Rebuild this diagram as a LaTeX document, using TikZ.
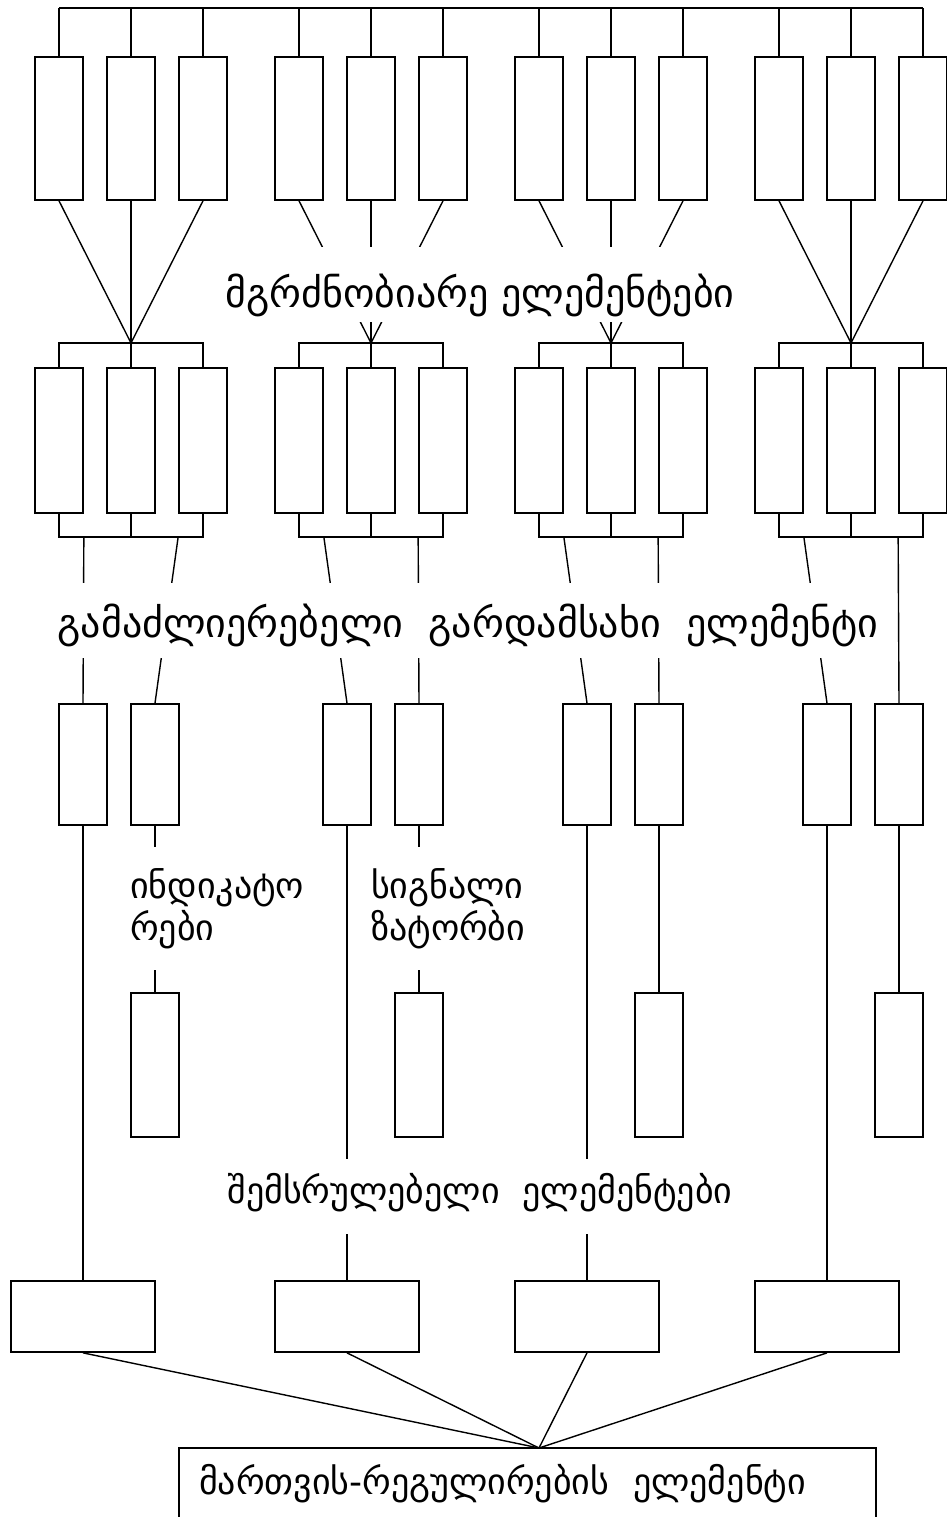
\documentclass[tikz,border=0pt]{standalone}
\usepackage{fontspec}
\setmainfont{DejaVu Sans}
\usepackage{tikz}
\tikzstyle{cell} = [rectangle, draw=black, line width=1.7pt, inner sep=0pt, minimum width=48pt]
\tikzstyle{sensor} = [cell, minimum height=143pt]
\tikzstyle{amp} = [cell, minimum height=145pt]
\tikzstyle{conv} = [cell, minimum height=121pt]
\tikzstyle{lamp} = [cell, minimum height=144pt]
\tikzstyle{drive} = [cell, minimum width=144pt, minimum height=71pt]
\tikzstyle{wire} = [line width=1.4pt]
\tikzstyle{caption} = [fill=white, inner ysep=0pt, inner xsep=8pt, font=\fontsize{36}{42}\selectfont]

\begin{document}
\begin{tikzpicture}[x=1pt, y=-1pt]
    \useasboundingbox (0,0) rectangle (946,1517);

    % Nodes
    \coordinate (top) at (0,8);
    \foreach \g/\cx in {1/131, 2/371, 3/611, 4/851} {
        \foreach \k/\dx in {1/-72, 2/0, 3/72} {
            \node (t\g\k) [sensor] at ({\cx+\dx}, 128.5) {};
            \node (a\g\k) [amp] at ({\cx+\dx}, 440.5) {};
        }
        \coordinate (m\g) at (\cx, 343);
        \coordinate (b\g) at (\cx, 537);
    }
    \foreach \g/\xl/\xr in {1/83/155, 2/347/419, 3/587/659, 4/827/899} {
        \node (r\g1) [conv] at (\xl, 764.5) {};
        \node (r\g2) [conv] at (\xr, 764.5) {};
        \node (q\g) [lamp] at (\xr, 1065) {};
        \node (e\g) [drive] at (\xl, 1316.5) {};
    }
    \coordinate (c) at (539, 1448);
    \node (ctrl) [draw, line width=1.7pt, minimum width=697pt, minimum height=72pt,
        text width=657pt, inner xsep=20pt, align=left, font=\fontsize{36}{42}\selectfont]
        at (527.5, 1484) {მართვის-რეგულირების~~ელემენტი};

    % Connections
    \draw [wire] (t11.north |- top) -- (t43.north |- top);
    \foreach \g in {1,2,3,4} {
        \foreach \k in {1,2,3} {
            \draw [wire] (t\g\k.north) -- (t\g\k.north |- top);
            \draw [wire] (t\g\k.south) -- (m\g);
        }
        \draw [wire] (a\g1.north) |- (m\g) -| (a\g3.north);
        \draw [wire] (m\g) -- (a\g2.north);
        \draw [wire] (a\g1.south) |- (b\g) -| (a\g3.south);
        \draw [wire] (b\g) -- (a\g2.south);
        \draw [wire] (a\g1.south east |- b\g) -- (r\g1.north);
        \draw [wire] (a\g3.south west |- b\g) -- (r\g2.north);
        \draw [wire] (r\g2.south) -- (q\g.north);
        \draw [wire] (r\g1.south) -- (e\g.north);
        \draw [wire] (e\g.south) -- (c);
    }

    % Labels
    \node (sense) [caption, anchor=base, text height=60pt, text depth=15pt, font=\fontsize{40}{46}\selectfont] at (480, 307) {მგრძნობიარე ელემენტები};
    \node (amplify) [caption, anchor=base, text height=54pt, text depth=21pt, font=\fontsize{40}{46}\selectfont] at (468, 637) {გამაძლიერებელი~~გარდამსახი~~ელემენტი};
    \node (indic) [caption, anchor=north west, align=left, inner xsep=2pt, minimum height=123pt] at (128, 847) {ინდიკატო\\რები};
    \node (signal) [caption, anchor=north west, align=left, inner xsep=2pt, minimum height=123pt] at (369, 847) {სიგნალი\\ზატორბი};
    \node (exec) [caption, anchor=base, text height=44pt, text depth=31pt] at (480, 1203) {შემსრულებელი~~ელემენტები};

\end{tikzpicture}
\end{document}
